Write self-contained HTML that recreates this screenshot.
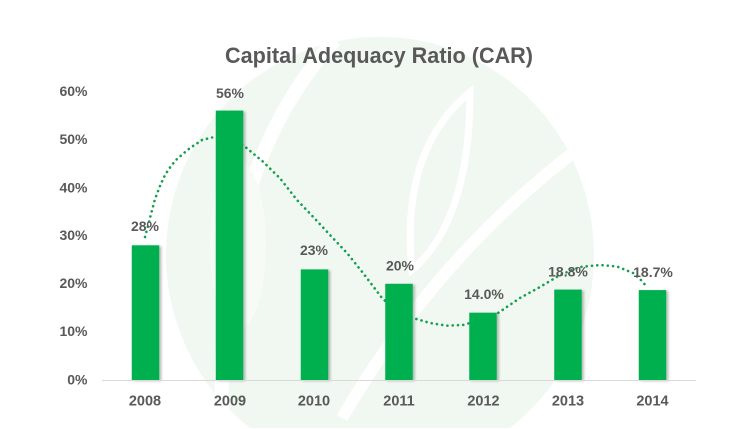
<!DOCTYPE html>
<html>
<head>
<meta charset="utf-8">
<style>
  html,body{margin:0;padding:0;background:#fff;width:733px;height:429px;overflow:hidden;}
  svg{display:block;overflow:hidden;}
  text{font-family:"Liberation Sans",Arial,sans-serif;font-weight:bold;fill:#595959;}
</style>
</head>
<body>
<svg width="733" height="429" viewBox="0 0 733 429" xmlns="http://www.w3.org/2000/svg">
  <defs>
    <filter id="sh" x="-20%" y="-5%" width="150%" height="110%">
      <feDropShadow dx="2" dy="1" stdDeviation="1.3" flood-color="#000" flood-opacity="0.28"/>
    </filter>
  </defs>
  <rect width="733" height="429" fill="#fff"/>
  <!-- watermark -->
  <path d="M250 428 A214 218 0 1 1 510 428 Z" fill="#f0f8f1"/>
  <path d="M335 40 Q215 170 222 418" fill="none" stroke="#fff" stroke-width="14"/>
  <path d="M590 140 Q440 250 342 418" fill="none" stroke="#fff" stroke-width="12"/>
  <path d="M470 92 Q400 150 412 270 Q470 220 470 92 Z" fill="none" stroke="#fff" stroke-width="7"/>
  <ellipse cx="238" cy="245" rx="28" ry="85" fill="#f6fbf6"/>

  <!-- title -->
  <text x="379" y="63" font-size="22" text-anchor="middle" textLength="308" lengthAdjust="spacingAndGlyphs">Capital Adequacy Ratio (CAR)</text>

  <!-- y axis labels -->
  <g font-size="14" text-anchor="end">
    <text x="87.5" y="96">60%</text>
    <text x="87.5" y="144">50%</text>
    <text x="87.5" y="192.3">40%</text>
    <text x="87.5" y="240">30%</text>
    <text x="87.5" y="288">20%</text>
    <text x="87.5" y="336">10%</text>
    <text x="87.5" y="384.3">0%</text>
  </g>

  <!-- trend dotted line (behind bars) -->
  <polyline fill="none" stroke="#12a04f" stroke-width="2.6" stroke-linecap="round" stroke-linejoin="round" stroke-dasharray="0.1 5.2"
    points="145,237 148,226 151,214 155,199 160,186 165,175 171,166 177,159 184,153 190,148 202,140 212,137.5 225,137 235,140 245,146.7 263,161.7 280,178.3 297,200 313,216.7 330,235 347,253 363,273 382,298 395,310 413,318 430,323 447,325.7 463,325 480,320 498,313 520,298 540,287 560,275 580,267 600,265 617,266.5 633,273 640,279 647,287"/>

  <!-- bars -->
  <g fill="#00b050" filter="url(#sh)">
    <rect x="131.75" y="245.3" width="27.5" height="134.7"/>
    <rect x="215.75" y="110.6" width="27.5" height="269.4"/>
    <rect x="300.75" y="269.4" width="27.5" height="110.6"/>
    <rect x="385.25" y="283.8" width="27.5" height="96.2"/>
    <rect x="469.25" y="312.7" width="27.5" height="67.3"/>
    <rect x="554.25" y="289.6" width="27.5" height="90.4"/>
    <rect x="638.75" y="290.1" width="27.5" height="89.9"/>
  </g>

  <!-- axis line -->
  <line x1="102" y1="380.5" x2="696" y2="380.5" stroke="#d9d9d9" stroke-width="1"/>

  <!-- data labels -->
  <g font-size="14" text-anchor="middle">
    <text x="145" y="231">28%</text>
    <text x="230" y="98">56%</text>
    <text x="314" y="255">23%</text>
    <text x="400" y="270.5">20%</text>
    <text x="484" y="299">14.0%</text>
    <text x="568" y="276.5">18.8%</text>
    <text x="653" y="277">18.7%</text>
  </g>

  <!-- x labels -->
  <g font-size="14.5" text-anchor="middle">
    <text x="145" y="405.5">2008</text>
    <text x="230" y="405.5">2009</text>
    <text x="314" y="405.5">2010</text>
    <text x="399" y="405.5">2011</text>
    <text x="483.5" y="405.5">2012</text>
    <text x="568" y="405.5">2013</text>
    <text x="652.5" y="405.5">2014</text>
  </g>
</svg>
</body>
</html>
